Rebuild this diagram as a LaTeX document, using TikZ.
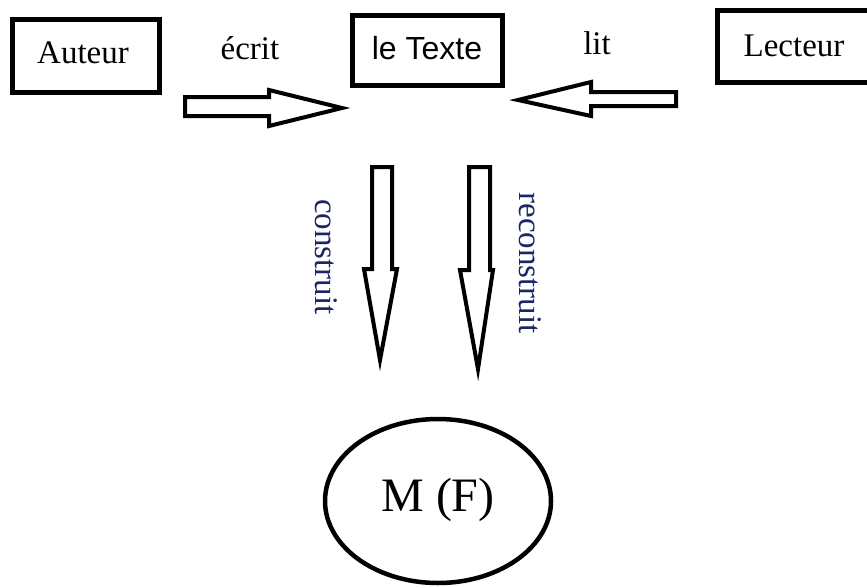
\documentclass[tikz,border=0pt]{standalone}
\usepackage{fontspec}
\usetikzlibrary{shapes.geometric}
\setmainfont{Liberation Serif}
\newfontfamily\arialfont{Liberation Sans}
\definecolor{navytext}{RGB}{28,38,100}
\tikzset{
  box/.style={draw=black, line width=5pt, inner sep=0pt},
  lbl/.style={inner sep=0pt, font=\fontsize{33}{36}\selectfont},
  blockarrow/.style={draw=black, line width=4pt, line join=miter, fill=white},
}
\begin{document}
\begin{tikzpicture}[x=1pt,y=-1pt]
\useasboundingbox (0,0) rectangle (867,587);
\clip (0,0) rectangle (867,587);
% boxes
\node[box, minimum width=147pt, minimum height=73pt] (auteur) at (86,56) {};
\node[lbl] (auteurtxt) at (83,53) {Auteur};
\node[box, minimum width=150pt, minimum height=70pt] (texte) at (427.5,50.5) {};
\node[lbl, font=\arialfont\fontsize{32}{36}\selectfont] (textetxt) at (427,48) {le Texte};
\node[box, minimum width=160pt, minimum height=72pt] (lecteur) at (797.5,46.5) {};
\node[lbl] (lecteurtxt) at (794,46) {Lecteur};
% labels
\node[lbl] (ecrit) at (250,48) {écrit};
\node[lbl] (lit) at (597,43) {lit};
\node[lbl, text=navytext, rotate=-90] (construit) at (326,257) {construit};
\node[lbl, text=navytext, rotate=-90] (reconstruit) at (530,263) {reconstruit};
% ellipse
\node[draw=black, line width=4.5pt, ellipse, minimum width=226pt, minimum height=164pt, inner sep=0pt] (mf) at (438,501) {};
\node[inner sep=0pt, font=\fontsize{48}{52}\selectfont] (mftxt) at (438,500) {M (F)};
% block arrows
\draw[blockarrow] (185,97) -- (269,97) -- (269,90) -- (342,108) -- (269,126) -- (269,116) -- (185,116) -- cycle;
\draw[blockarrow] (676,92) -- (591,92) -- (591,82) -- (518,100) -- (591,116) -- (591,106) -- (676,106) -- cycle;
\draw[blockarrow] (372,167) -- (392,167) -- (392,269) -- (397,269) -- (380,360) -- (364,269) -- (372,269) -- cycle;
\draw[blockarrow] (469,167) -- (490,167) -- (490,270) -- (493,270) -- (478,369) -- (460,270) -- (469,270) -- cycle;
\end{tikzpicture}
\end{document}
